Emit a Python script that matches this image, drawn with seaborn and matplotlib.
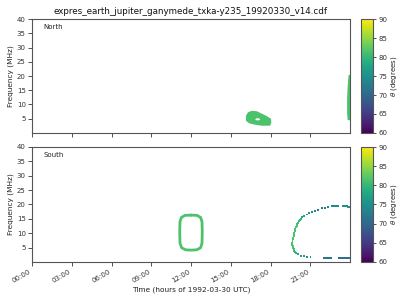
import numpy as np
import pandas as pd
import seaborn as sns
import matplotlib
matplotlib.use("Agg")
import matplotlib.pyplot as plt
from matplotlib.path import Path
from matplotlib.patches import PathPatch
from matplotlib.colors import Normalize
from matplotlib.cm import ScalarMappable

TITLE = "expres_earth_jupiter_ganymede_txka-y235_19920330_v14.cdf"
XLABEL = "Time (hours of 1992-03-30 UTC)"
YLABEL = "Frequency (MHz)"
CBAR_LABEL = r"$\theta$ (degrees)"
HEMISPHERES = ["North", "South"]
XTICKS = [0, 3, 6, 9, 12, 15, 18, 21]
XTICKLABELS = ["00:00", "03:00", "06:00", "09:00", "12:00", "15:00", "18:00", "21:00"]
YTICKS = [5, 10, 15, 20, 25, 30, 35, 40]
CTICKS = [60, 65, 70, 75, 80, 85, 90]
THETA_RANGE = (60, 90)

# North: filled emission blob (time h, freq MHz), with a small gap inside
north_blob_t = [16.15, 16.30, 16.60, 16.98, 17.36, 17.74, 18.04, 18.06, 17.96, 17.36, 16.83, 16.38, 16.15]
north_blob_f = [6.04, 7.26, 7.79, 7.61, 6.74, 5.86, 4.98, 3.58, 2.53, 2.53, 2.88, 3.40, 4.28]
north_gap_t = [16.85, 16.95, 17.15, 17.22, 17.12, 16.90]
north_gap_f = [4.8, 5.15, 5.1, 4.7, 4.4, 4.45]
north_blob_theta = 81.5

# North: strip at the right edge
north_strip_t = [23.90, 24.0, 24.0, 23.82, 23.78, 23.78, 23.82, 23.87]
north_strip_f = [20.4, 20.4, 4.4, 4.6, 7.0, 12.0, 16.0, 19.0]
north_strip_theta = 81.5

# South: closed ring
south_ring_t = [12.0, 12.45, 12.72, 12.83, 12.85, 12.83, 12.72, 12.42, 12.0,
                11.6, 11.3, 11.17, 11.15, 11.17, 11.28, 11.55, 12.0]
south_ring_f = [16.3, 16.2, 15.5, 14.0, 10.5, 6.5, 4.9, 4.2, 4.1,
                4.2, 4.9, 6.5, 10.5, 14.0, 15.5, 16.2, 16.3]
south_ring_theta = 81.5

# South: open arc (time h, freq MHz, theta deg)
south_arc_t = [24.0, 23.88, 23.75, 23.62, 23.5,
               23.12, 23.0, 22.87, 22.75, 22.62,
               22.36, 22.11, 21.86, 21.61, 21.36, 21.11, 20.91, 20.73, 20.55, 20.40,
               20.28, 20.20, 20.12, 20.06, 20.01, 19.97, 19.92, 19.88, 19.84, 19.80,
               19.77, 19.74, 19.71, 19.68, 19.66, 19.65, 19.65, 19.67, 19.70, 19.75,
               19.80, 19.87, 19.95, 20.10, 20.30, 20.52, 20.78, 21.02,
               22.05, 22.2, 22.35, 22.5, 22.6,
               23.2, 23.35, 23.5, 23.65, 23.8, 23.95]
south_arc_f = [19.1, 19.2, 19.3, 19.35, 19.4,
               19.5, 19.5, 19.5, 19.45, 19.4,
               19.2, 18.9, 18.6, 18.2, 17.8, 17.3, 16.9, 16.5, 16.0, 15.5,
               15.0, 14.6, 14.1, 13.6, 13.1, 12.6, 12.0, 11.4, 10.8, 10.2,
               9.6, 9.0, 8.4, 7.8, 7.2, 6.6, 6.0, 5.4, 4.9, 4.4,
               3.9, 3.5, 3.1, 2.6, 2.2, 1.9, 1.7, 1.6,
               1.3, 1.3, 1.3, 1.3, 1.3,
               1.3, 1.3, 1.3, 1.3, 1.3, 1.3]
south_arc_theta = [75, 75, 75, 75, 75,
                   74.5, 74.5, 74.5, 74.5, 74.5,
                   73, 72.5, 72.5, 73, 73.5, 74, 75, 76, 77, 78,
                   79, 80, 80.5, 81, 81, 81.5, 81.5, 81.5, 81.5, 81.5,
                   81.5, 81.5, 81.5, 81.5, 81.5, 81.5, 81.5, 81.5, 81, 81,
                   80.5, 80, 79.5, 78.5, 77.5, 76.5, 75.5, 74.5,
                   71.5, 71.5, 71.5, 71.5, 71.5,
                   71, 71, 71, 71, 71, 71]

sns.set_style("ticks")
plt.rcParams['font.family'] = ['DejaVu Sans']
cmap = plt.get_cmap("viridis")
norm = Normalize(*THETA_RANGE)

fig = plt.figure(figsize=(4, 3), dpi=100)
ax_n = fig.add_axes([0.08, 0.557, 0.795, 0.379])
ax_s = fig.add_axes([0.08, 0.127, 0.795, 0.383])
cax_n = fig.add_axes([0.9025, 0.557, 0.03, 0.379])
cax_s = fig.add_axes([0.9025, 0.127, 0.03, 0.383])

# North
outer = np.column_stack([north_blob_t, north_blob_f])
hole = np.column_stack([north_gap_t, north_gap_f])[::-1]
path = Path.make_compound_path(Path(np.vstack([outer, outer[:1]]), closed=True),
                               Path(np.vstack([hole, hole[:1]]), closed=True))
ax_n.add_patch(PathPatch(path, facecolor=cmap(norm(north_blob_theta)), lw=0))
ax_n.fill(north_strip_t, north_strip_f, color=cmap(norm(north_strip_theta)), lw=0)

# South
ring = pd.DataFrame({"t": south_ring_t, "f": south_ring_f})
sns.lineplot(data=ring, x="t", y="f", sort=False, estimator=None,
             color=cmap(norm(south_ring_theta)), lw=2.0, ax=ax_s)
arc = pd.DataFrame({"t": south_arc_t, "f": south_arc_f, "theta": south_arc_theta})
sns.scatterplot(data=arc, x="t", y="f", hue="theta", palette="viridis",
                hue_norm=THETA_RANGE, marker="s", s=2.0, linewidth=0,
                legend=False, ax=ax_s, clip_on=True)

for ax, name in zip([ax_n, ax_s], HEMISPHERES):
    ax.set_xlim(0, 24)
    ax.set_ylim(0, 40)
    ax.set_xticks(XTICKS)
    ax.set_yticks(YTICKS)
    ax.tick_params(labelsize=5, length=3, width=0.6, colors="#333333", pad=1.5)
    ax.set_ylabel(YLABEL, fontsize=5.3, color="#222222", labelpad=2)
    ax.text(0.035, 0.91, name, transform=ax.transAxes, fontsize=5, color="#222222")
    for sp in ax.spines.values():
        sp.set_visible(True)
        sp.set_color("#555555")
        sp.set_linewidth(0.8)

ax_n.set_xticklabels([])
ax_n.set_xlabel("")
ax_s.set_xticklabels(XTICKLABELS, rotation=30, ha="right")
ax_s.set_xlabel(XLABEL, fontsize=5.3, color="#222222", labelpad=2)
ax_n.set_title(TITLE, fontsize=6.3, color="#111111", pad=4)

for cax in [cax_n, cax_s]:
    cb = fig.colorbar(ScalarMappable(norm=norm, cmap=cmap), cax=cax)
    cb.set_ticks(CTICKS)
    cb.ax.tick_params(labelsize=5, length=2.5, width=0.6, colors="#333333", pad=1.5)
    cb.set_label(CBAR_LABEL, fontsize=5.0, color="#222222", labelpad=1)
    cb.outline.set_edgecolor("#555555")
    cb.outline.set_linewidth(0.8)

fig.savefig("out.png", dpi=100)
